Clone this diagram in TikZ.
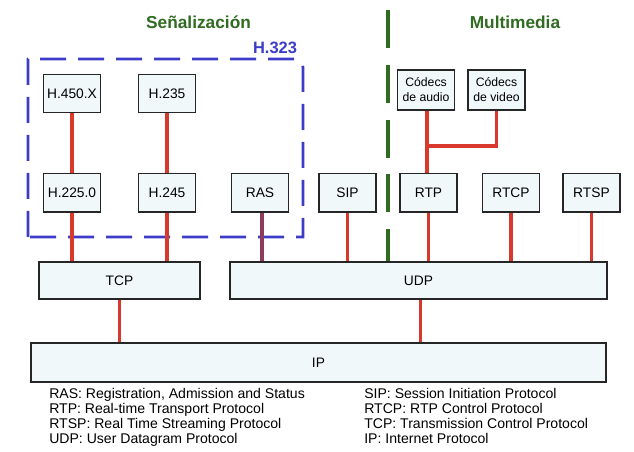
\documentclass[tikz,border=0pt]{standalone}
\usepackage{fontspec}
\setmainfont{Liberation Sans}
\definecolor{boxfill}{HTML}{F0F8FA}
\definecolor{linkred}{HTML}{D8392C}
\definecolor{raslink}{HTML}{8E3A5C}
\definecolor{sepgreen}{HTML}{2F6B20}
\definecolor{hblue}{HTML}{3C3CC8}
\begin{document}
\begin{tikzpicture}[x=0.025cm, y=-0.025cm,
  font=\fontsize{9.8}{11}\selectfont,
  pbox/.style={draw=black!85, fill=boxfill, line width=1pt, align=center,
               inner sep=1pt, minimum width=1.43cm, minimum height=0.96cm},
  codec/.style={pbox, minimum height=1cm, font=\fontsize{8.7}{10.6}\selectfont},
  layer/.style={pbox, minimum height=0.93cm},
  lnk/.style={linkred, line width=2.2pt},
  title/.style={font=\fontsize{12.3}{14}\selectfont\bfseries, inner sep=0pt},
  legend/.style={font=\fontsize{10}{10.67}\selectfont, align=left, inner sep=0pt, anchor=north west}
]
\fill[white] (0,0) rectangle (634,452);
\useasboundingbox (0,0) rectangle (634,452);
% ----- titles and separators -----
\node[title, text=sepgreen] (senal) at (198.5,22) {Señalización};
\node[title, text=sepgreen] (multi) at (515,22) {Multimedia};
\coordinate (septop) at (388,10);
\coordinate (sepbot) at (388,262);
\draw[sepgreen, line width=2.8pt, dash pattern=on 0.95cm off 0.42cm] (septop) -- (sepbot);
\draw[hblue, line width=2pt, dash pattern=on 0.65cm off 0.3cm]
  (28,237) -- (28,59) [rounded corners=6pt]-- (303,59) [rounded corners=0pt]-- (303,237) -- cycle;
\node[title, text=hblue, font=\fontsize{11.7}{14}\selectfont\bfseries] (h323) at (275,48) {H.323};
% ----- signalling column -----
\node[pbox] (h450)  at (72,93.5)  {H.450.X};
\node[pbox] (h235)  at (167,93.5) {H.235};
\node[pbox] (h2250) at (72,193)   {H.225.0};
\node[pbox] (h245)  at (167,193)  {H.245};
\node[pbox] (ras)   at (260,193)  {RAS};
\node[pbox] (sip)   at (347.5,193) {SIP};
% ----- multimedia column -----
\node[codec] (audio) at (426,90) {Códecs\\de audio};
\node[codec] (video) at (496.5,90) {Códecs\\de video};
\node[pbox] (rtp)  at (428.5,193) {RTP};
\node[pbox] (rtcp) at (511,193)   {RTCP};
\node[pbox] (rtsp) at (591.5,193) {RTSP};
% ----- transport and network -----
\node[layer, minimum width=4.025cm] (tcp) at (119.5,280.5) {TCP};
\node[layer, minimum width=9.425cm] (udp) at (418.5,280.5) {UDP};
\node[layer, minimum width=14.375cm, minimum height=0.975cm] (ip) at (318.5,362.5) {IP};
% ----- links -----
\foreach \a/\b in {h450/h2250, h235/h245}{\draw[lnk] (\a) -- (\b);}
\foreach \a/\b in {h2250/tcp, h245/tcp, sip/udp, rtp/udp, rtcp/udp, rtsp/udp}{\draw[lnk] (\a.south) -- (\a.south |- \b.north);}
\draw[raslink, line width=2.2pt] ([xshift=0.05cm]ras.south) -- ([xshift=0.05cm]ras.south |- udp.north);
\draw[lnk] (tcp.south) -- (tcp.south |- ip.north);
\draw[lnk] ([xshift=0.04cm]udp.south) -- ([xshift=0.04cm]udp.south |- ip.north);
\coordinate (join) at (427,146);
\draw[lnk] ([xshift=0.025cm]audio.south) -- ([xshift=0.025cm]audio.south |- rtp.north);
\draw[lnk] (video.south) |- (join);
% ----- legend -----
\node[legend] (legleft) at (49,388)
  {RAS: Registration, Admission and Status\\RTP: Real-time Transport Protocol\\RTSP: Real Time Streaming Protocol\\UDP: User Datagram Protocol};
\node[legend] (legright) at (364,388)
  {SIP: Session Initiation Protocol\\RTCP: RTP Control Protocol\\TCP: Transmission Control Protocol\\IP: Internet Protocol};
\end{tikzpicture}
\end{document}
